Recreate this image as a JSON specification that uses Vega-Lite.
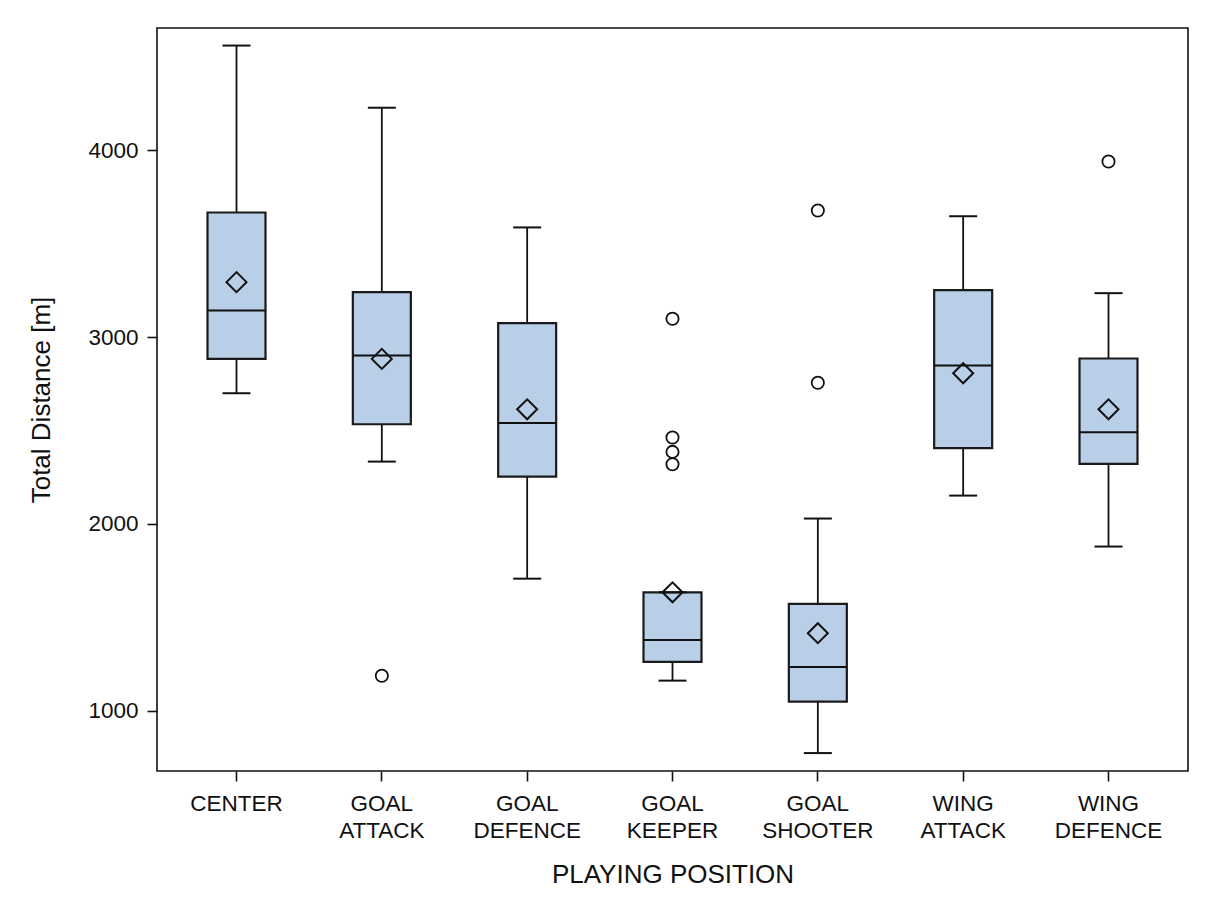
{
  "$schema": "https://vega.github.io/schema/vega-lite/v6.json",
  "width": 1031,
  "height": 743,
  "autosize": {"type": "none"},
  "padding": {"left": 157, "top": 28, "right": 17, "bottom": 132},
  "background": "white",
  "datasets": {
    "boxes": [
      {"position": "CENTER", "lower": 2700, "q1": 2884, "median": 3143, "q3": 3668, "upper": 4562, "mean": 3295},
      {"position": "GOAL ATTACK", "lower": 2334, "q1": 2534, "median": 2902, "q3": 3241, "upper": 4229, "mean": 2884},
      {"position": "GOAL DEFENCE", "lower": 1707, "q1": 2254, "median": 2541, "q3": 3075, "upper": 3588, "mean": 2614},
      {"position": "GOAL KEEPER", "lower": 1161, "q1": 1261, "median": 1379, "q3": 1634, "upper": 1634, "mean": 1634},
      {"position": "GOAL SHOOTER", "lower": 773, "q1": 1048, "median": 1234, "q3": 1572, "upper": 2029, "mean": 1415},
      {"position": "WING ATTACK", "lower": 2152, "q1": 2406, "median": 2848, "q3": 3252, "upper": 3648, "mean": 2807},
      {"position": "WING DEFENCE", "lower": 1879, "q1": 2322, "median": 2491, "q3": 2886, "upper": 3236, "mean": 2614}
    ],
    "outliers": [
      {"position": "GOAL ATTACK", "distance": 1187},
      {"position": "GOAL KEEPER", "distance": 3099},
      {"position": "GOAL KEEPER", "distance": 2463},
      {"position": "GOAL KEEPER", "distance": 2386},
      {"position": "GOAL KEEPER", "distance": 2320},
      {"position": "GOAL SHOOTER", "distance": 3679},
      {"position": "GOAL SHOOTER", "distance": 2756},
      {"position": "WING DEFENCE", "distance": 3941}
    ]
  },
  "encoding": {
    "x": {
      "field": "position",
      "type": "nominal",
      "scale": {
        "type": "band",
        "domain": ["CENTER", "GOAL ATTACK", "GOAL DEFENCE", "GOAL KEEPER", "GOAL SHOOTER", "WING ATTACK", "WING DEFENCE"],
        "paddingInner": 0,
        "paddingOuter": 0.047
      },
      "axis": {
        "title": "PLAYING POSITION",
        "labelAngle": 0,
        "labelExpr": "split(datum.label, ' ')",
        "labelLineHeight": 27.5,
        "labelPadding": 11,
        "titlePadding": 19
      }
    }
  },
  "layer": [
    {
      "data": {"name": "boxes"},
      "mark": {"type": "rule", "color": "#111111", "strokeWidth": 1.8},
      "encoding": {
        "y": {"field": "lower", "type": "quantitative", "scale": {"domain": [677, 4656], "nice": false, "zero": false}, "axis": {"title": "Total Distance [m]", "values": [1000, 2000, 3000, 4000], "format": "d", "titlePadding": 33}},
        "y2": {"field": "upper"}
      }
    },
    {
      "data": {"name": "boxes"},
      "mark": {"type": "bar", "size": 58, "fill": "#B9CFE8", "stroke": "#1a1a1a", "strokeWidth": 2.2},
      "encoding": {
        "y": {"field": "q1", "type": "quantitative"},
        "y2": {"field": "q3"}
      }
    },
    {
      "data": {"name": "boxes"},
      "mark": {"type": "tick", "size": 58, "thickness": 2, "color": "#111111", "opacity": 1},
      "encoding": {"y": {"field": "median", "type": "quantitative"}}
    },
    {
      "data": {"name": "boxes"},
      "mark": {"type": "tick", "size": 28, "thickness": 2, "color": "#111111", "opacity": 1},
      "encoding": {"y": {"field": "lower", "type": "quantitative"}}
    },
    {
      "data": {"name": "boxes"},
      "mark": {"type": "tick", "size": 28, "thickness": 2, "color": "#111111", "opacity": 1},
      "encoding": {"y": {"field": "upper", "type": "quantitative"}}
    },
    {
      "data": {"name": "boxes"},
      "mark": {"type": "point", "shape": "diamond", "size": 400, "filled": false, "stroke": "#111111", "strokeWidth": 2, "opacity": 1},
      "encoding": {"y": {"field": "mean", "type": "quantitative"}}
    },
    {
      "data": {"name": "outliers"},
      "mark": {"type": "point", "shape": "circle", "size": 150, "filled": false, "stroke": "#111111", "strokeWidth": 1.8, "opacity": 1},
      "encoding": {"y": {"field": "distance", "type": "quantitative"}}
    }
  ],
  "config": {
    "view": {"stroke": "#111111", "strokeWidth": 1.6},
    "axis": {
      "domain": false,
      "grid": false,
      "labelFont": "Liberation Sans",
      "titleFont": "Liberation Sans",
      "labelFontSize": 22.5,
      "titleFontSize": 26,
      "titleFontWeight": "normal",
      "labelColor": "#111111",
      "titleColor": "#111111",
      "tickColor": "#111111",
      "tickWidth": 1.6,
      "tickSize": 10
    },
    "axisY": {"labelPadding": 9}
  }
}
